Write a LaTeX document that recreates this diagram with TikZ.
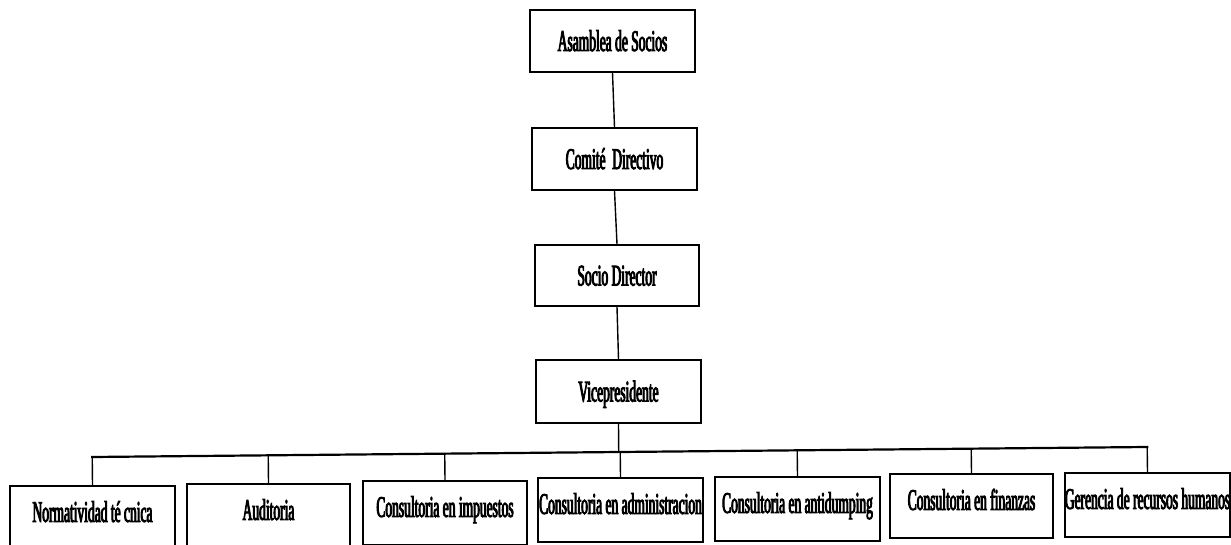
\documentclass[tikz,border=0pt]{standalone}
\usepackage{fontspec}
\newfontfamily\cond[FakeStretch=0.45,FakeBold=3]{Liberation Serif}
\usetikzlibrary{calc}
\begin{document}
\begin{tikzpicture}[x=1pt,y=-1pt,
  orgbox/.style={draw, line width=1.8pt, inner sep=0pt,
    font=\cond\fontsize{30}{32}\selectfont, text height=20pt, text depth=0pt},
  topbox/.style={orgbox, minimum width=165pt, minimum height=62pt},
  botbox/.style={orgbox, minimum width=#1, minimum height=64pt, text depth=12pt, anchor=north},
  link/.style={line width=1.4pt},
  bus/.style={line width=2.2pt, line cap=rect}]
\fill[white] (0,0) rectangle (1231,545);
\useasboundingbox (0,0) rectangle (1231,545);

% upper column
\node[topbox] (asamblea) at (612.5,41) {Asamblea de Socios};
\node[topbox] (comite) at (614.5,159) {Comité\ \ Directivo};
\node[topbox, minimum width=164pt, minimum height=61pt] (socio) at (617,275.5) {Socio Director};
\node[topbox, minimum height=63pt] (vice) at (618.5,391.5) {Vicepresidente};

% bottom row
\node[botbox=165pt] (b1) at (92.5,485) {Normatividad té cnica};
\node[botbox=163pt] (b2) at (268.5,483) {Auditoria};
\node[botbox=164pt] (b3) at (445,480) {Consultoria en impuestos};
\node[botbox=165pt] (b4) at (620.5,477) {Consultoria en administracion};
\node[botbox=165pt] (b5) at (797.5,476) {Consultoria en antidumping};
\node[botbox=163pt] (b6) at (971.5,473) {Consultoria en finanzas};
\node[botbox=161pt] (b7) at (1147.5,472) {Gerencia de recursos humanos};

% connectors
\draw[link] (asamblea.south) -- (comite.north);
\draw[link] (comite.south) -- (socio.north);
\draw[link] (socio.south) -- (vice.north);

\coordinate (bL) at (92,457);
\coordinate (bR) at (1147,447);
\draw[bus] ($(bL)!(b1.north)!(bR)$) -- ($(bL)!(b7.north)!(bR)$);
\draw[link] (vice.south) -- ($(bL)!(vice.south)!(bR)$);
\foreach \b in {b1,b2,b3,b4,b5,b6,b7}
  \draw[link] (\b.north) -- ($(bL)!(\b.north)!(bR)$);
\end{tikzpicture}
\end{document}
